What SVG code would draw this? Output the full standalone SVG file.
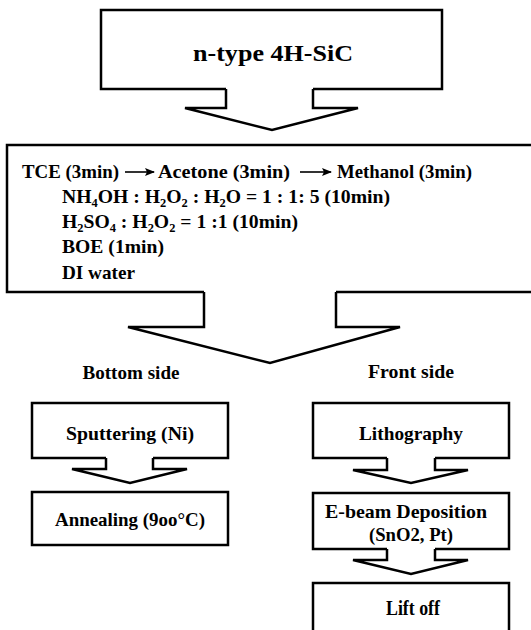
<svg xmlns="http://www.w3.org/2000/svg" width="531" height="630" viewBox="0 0 531 630">
<style>
.s{fill:none;stroke:#000;stroke-width:2.5;stroke-linejoin:miter}
.c{text-anchor:middle}
</style>
<defs>
<marker id="ah" viewBox="0 0 10 8" refX="9" refY="4" markerWidth="10" markerHeight="8" markerUnits="userSpaceOnUse" orient="auto">
<path d="M0,0 L10,4 L0,8 L2,4 Z" fill="#000"/>
</marker>
</defs>
<rect width="531" height="630" fill="#fff"/>
<g id="connectors">
<path class="s" d="M226,89 V108 H185 L272,130 L358,108 H313 V89"/>
<path class="s" d="M204,292 V327 H128 L270,363 L400,327 H336 V292"/>
<path class="s" d="M106,458 V469 H72 L130,483 L187,469 H153 V458"/>
<path class="s" d="M387,458 V470 H353 L411,483 L468,470 H435 V458"/>
<path class="s" d="M387,549 V560 H353 L411,574 L468,560 H435 V549"/>
</g>
<g font-family="'Liberation Serif', 'Times New Roman', 'DejaVu Serif', serif" font-weight="bold" fill="#000">
<g id="n1">
<path class="s" d="M226,89 H101 V10 H442 V89 H313"/>
<text class="c" x="273" y="61" font-size="23" textLength="160" lengthAdjust="spacingAndGlyphs">n-type 4H-SiC</text>
</g>
<g id="n2">
<path class="s" d="M204,292 H7 V145 H540 V292 H336"/>
<text x="22" y="178" font-size="19" textLength="97" lengthAdjust="spacingAndGlyphs">TCE (3min)</text>
<line x1="125" y1="172" x2="154" y2="172" stroke="#000" stroke-width="1.6" marker-end="url(#ah)"/>
<text x="158" y="178" font-size="19" textLength="132" lengthAdjust="spacingAndGlyphs">Acetone (3min)</text>
<line x1="300" y1="172" x2="331" y2="172" stroke="#000" stroke-width="1.6" marker-end="url(#ah)"/>
<text x="337" y="178" font-size="19" textLength="135" lengthAdjust="spacingAndGlyphs">Methanol (3min)</text>
<text x="62" y="203" font-size="19" textLength="328" lengthAdjust="spacingAndGlyphs">NH<tspan font-size="12" dy="4">4</tspan><tspan dy="-4">OH : H</tspan><tspan font-size="12" dy="4">2</tspan><tspan dy="-4">O</tspan><tspan font-size="12" dy="4">2</tspan><tspan dy="-4"> : H</tspan><tspan font-size="12" dy="4">2</tspan><tspan dy="-4">O = 1 : 1: 5 (10min)</tspan></text>
<text x="62" y="228" font-size="19" textLength="236" lengthAdjust="spacingAndGlyphs">H<tspan font-size="12" dy="4">2</tspan><tspan dy="-4">SO</tspan><tspan font-size="12" dy="4">4</tspan><tspan dy="-4"> : H</tspan><tspan font-size="12" dy="4">2</tspan><tspan dy="-4">O</tspan><tspan font-size="12" dy="4">2</tspan><tspan dy="-4"> = 1 :1 (10min)</tspan></text>
<text x="62" y="253" font-size="19" textLength="102" lengthAdjust="spacingAndGlyphs">BOE (1min)</text>
<text x="62" y="279" font-size="19" textLength="73" lengthAdjust="spacingAndGlyphs">DI water</text>
</g>
<g id="lbl-bottom">
<text class="c" x="131" y="379" font-size="19" textLength="97" lengthAdjust="spacingAndGlyphs">Bottom side</text>
</g>
<g id="lbl-front">
<text class="c" x="411" y="378" font-size="19" textLength="86" lengthAdjust="spacingAndGlyphs">Front side</text>
</g>
<g id="n3">
<path class="s" d="M106,458 H32 V403 H228 V458 H153"/>
<text class="c" x="130" y="440" font-size="19" textLength="128" lengthAdjust="spacingAndGlyphs">Sputtering (Ni)</text>
</g>
<g id="n4">
<rect class="s" x="32" y="492" width="196" height="53"/>
<text class="c" x="130" y="526" font-size="19" textLength="150" lengthAdjust="spacingAndGlyphs">Annealing (9oo°C)</text>
</g>
<g id="n5">
<path class="s" d="M387,458 H313 V403 H509 V458 H435"/>
<text class="c" x="411" y="440" font-size="19" textLength="104" lengthAdjust="spacingAndGlyphs">Lithography</text>
</g>
<g id="n6">
<path class="s" d="M387,549 H313 V493 H509 V549 H435"/>
<text class="c" x="406" y="518" font-size="19" textLength="162" lengthAdjust="spacingAndGlyphs">E-beam Deposition</text>
<text class="c" x="411" y="541" font-size="19" textLength="84" lengthAdjust="spacingAndGlyphs">(SnO2, Pt)</text>
</g>
<g id="n7">
<path class="s" d="M313,640 V583 H509 V640"/>
<text class="c" x="413" y="615" font-size="20" textLength="54" lengthAdjust="spacingAndGlyphs">Lift off</text>
</g>
</g>
</svg>
